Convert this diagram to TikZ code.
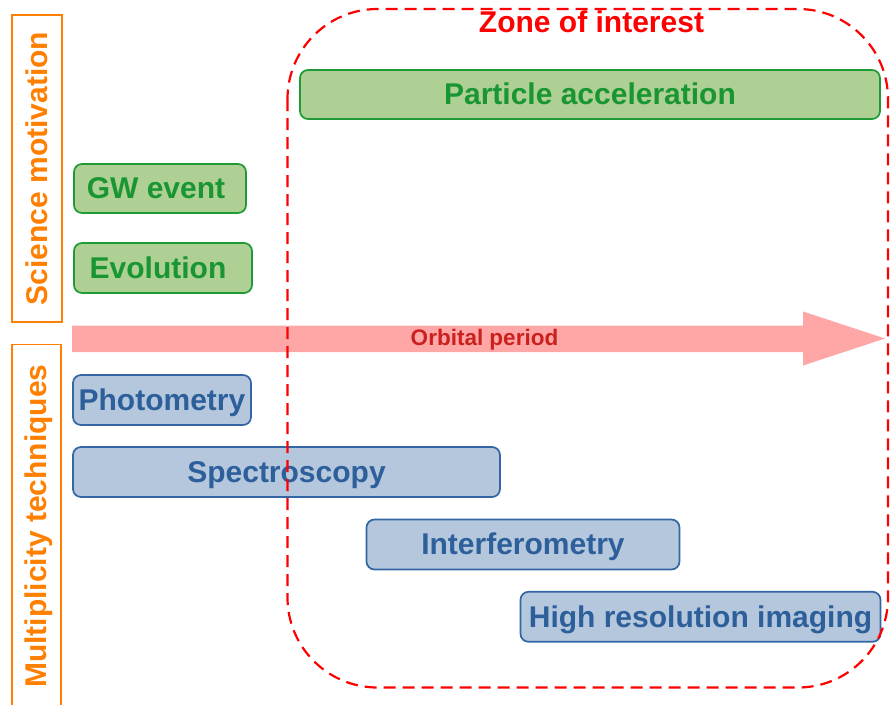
\documentclass[tikz,border=0pt]{standalone}
\usepackage{fontspec}
\setmainfont{Liberation Sans}
\definecolor{gfill}{RGB}{174,208,148}
\definecolor{gline}{RGB}{30,155,55}
\definecolor{gtext}{RGB}{25,150,50}
\definecolor{bfill}{RGB}{180,199,220}
\definecolor{bline}{RGB}{52,101,164}
\definecolor{btext}{RGB}{45,95,155}
\definecolor{orng}{RGB}{255,128,0}
\definecolor{afill}{RGB}{255,166,166}
\definecolor{atext}{RGB}{201,33,30}
\definecolor{zred}{RGB}{255,0,0}
\begin{document}
\begin{tikzpicture}[x=1pt,y=-1pt,
  big/.style={font=\fontsize{30}{36}\selectfont\bfseries, text height=27.15pt, text depth=6.36pt, inner sep=0pt},
  gbox/.style={big, draw=gline, fill=gfill, text=gtext, line width=1.7pt, rounded corners=8pt},
  bbox/.style={big, draw=bline, fill=bfill, text=btext, line width=1.7pt, rounded corners=8pt},
  side/.style={big, text=orng, rotate=90, minimum height=50pt},
  frame/.style={draw=orng, line width=1.7pt},
  zone/.style={draw=zred, line width=2.2pt, dash pattern=on 12pt off 7pt, rounded corners=90pt},
]
\useasboundingbox (0,0) rectangle (894,704);
\fill[white] (0,0) rectangle (894,704);

% side labels
\node[side, frame, minimum width=307pt] (sci) at (37,168.5) {Science motivation};
\node[side, minimum width=364pt] (mult) at (36.5,526) {Multiplicity techniques};
\draw[frame] (12,706) -- (12,344.5) -- (61,344.5) -- (61,706);

% orbital period arrow
\coordinate (arrowstart) at (72,338.5);
\coordinate (arrowtip) at (885,338.5);
\fill[afill] (72,325.5) -- (803,325.5) -- (803,311.5) -- (arrowtip) -- (803,365.5) -- (803,352) -- (72,352) -- cycle;
\node[font=\fontsize{22.5}{27}\selectfont\bfseries, text=atext, text height=20.4pt, text depth=4.77pt, inner sep=0pt] (orb) at (484.5,338) {Orbital period};

% science boxes
\node[gbox, minimum width=580pt, minimum height=49pt] (part) at (590,94.5) {Particle acceleration};
\node[gbox, minimum width=172pt, minimum height=49pt] (gw) at (160,188.5) {\hspace{-8pt}GW event};
\node[gbox, minimum width=178pt, minimum height=50pt] (evo) at (163,268) {\hspace{-10pt}Evolution};

% technique boxes
\node[bbox, minimum width=178pt, minimum height=50pt] (phot) at (162,400) {Photometry};
\node[bbox, minimum width=427pt, minimum height=50pt] (spec) at (286.5,472) {Spectroscopy};
\node[bbox, minimum width=313pt, minimum height=50pt] (interf) at (523,544.5) {Interferometry};
\node[bbox, minimum width=360pt, minimum height=50pt] (hri) at (700.5,616.8) {High resolution imaging};

% zone of interest
\draw[zone] (287.5,9) rectangle (888,687.5);
\node[big, text=zred] (zonelbl) at (591.5,22.6) {Zone of interest};
\end{tikzpicture}
\end{document}
